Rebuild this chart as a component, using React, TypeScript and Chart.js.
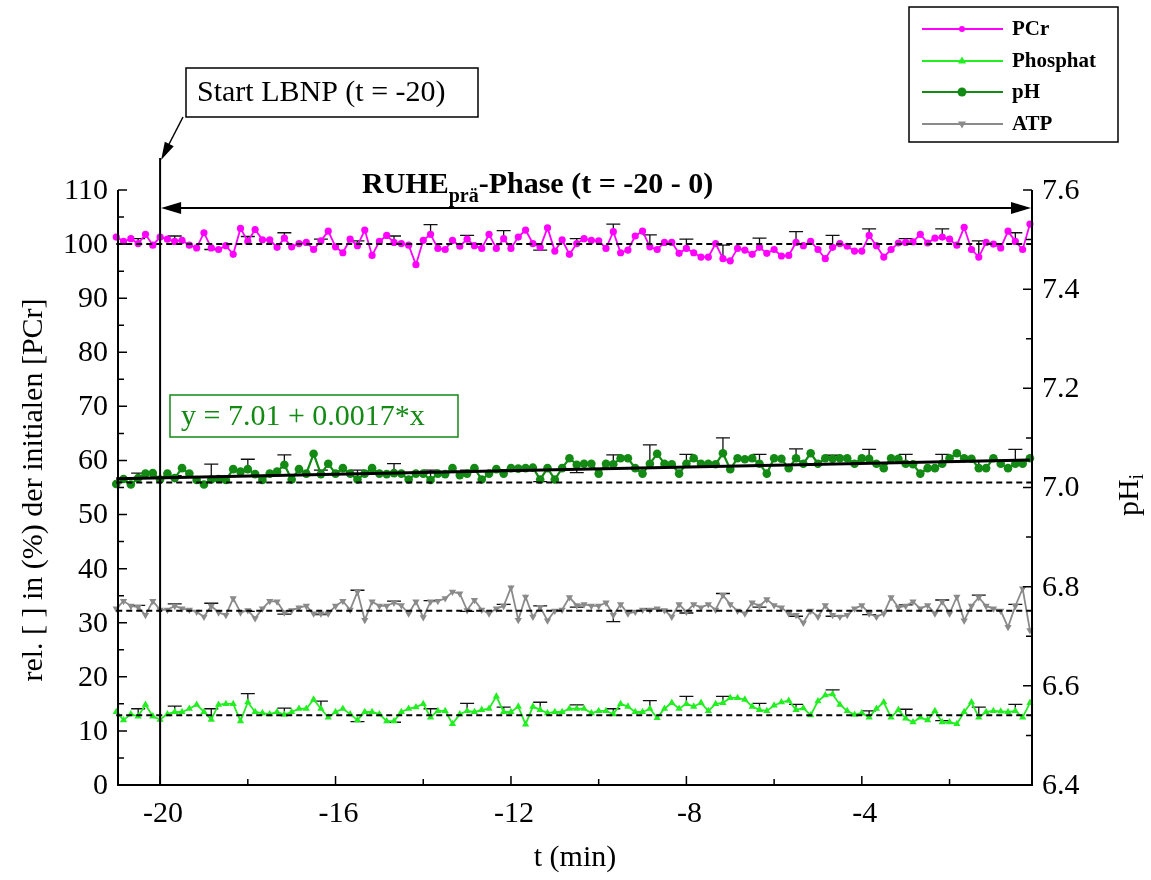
import React, { useEffect, useRef } from 'react';
import { Chart, registerables } from 'chart.js';
Chart.register(...registerables);

// ---------- data ----------
// samples every 10 s (1/6 min) from t = -21 min
const sampleCount = 126;
const times: number[] = Array.from({ length: sampleCount }, (_, i) => -21 + i / 6);

const pcrValues: number[] = [
  101.3, 100.5, 101, 100.1, 101.8, 99.8, 101.3, 100.9, 100.5, 100.7, 99.8, 99.3, 102.1, 99.3, 99, 99.7, 98.1, 102.9, 100.5, 102.7, 100.8,
  100.8, 99.4, 101.1, 99.5, 100.1, 100.3, 99, 100.6, 102.4, 99.5, 98.4, 100.9, 99.7, 102.6, 97.9, 100.5, 101.6, 100.3, 100.1, 99.8, 96.2,
  100.7, 101.8, 99.2, 99, 100.7, 99.6, 100.9, 99.7, 99.2, 101.8, 99.2, 101, 99.2, 101.3, 102.6, 100.1, 99.4, 103, 98.7, 100.8, 98.1,
  100.1, 101, 100.7, 100.6, 99.2, 102.3, 98.4, 98.9, 101.5, 102.4, 99.5, 99, 100.3, 100.3, 98.3, 99.2, 98.4, 97.6, 97.6, 100.1, 97.3,
  96.9, 99.2, 98.9, 98.1, 99.4, 98.3, 99, 97.8, 97.9, 100.3, 99.7, 100.5, 99, 97.3, 99.4, 100.1, 99.6, 98.7, 98.7, 101.6, 99.7,
  97.6, 99, 100.2, 100.3, 100.4, 101.8, 100.2, 101.1, 101.3, 100.9, 99.8, 103.1, 99, 97.6, 100.3, 100, 99.3, 102.4, 100.5, 99, 103.7,
];

const phValues: number[] = [
  7.007, 7.017, 7.006, 7.019, 7.028, 7.029, 7.016, 7.028, 7.019, 7.039, 7.028, 7.015, 7.006, 7.016, 7.017, 7.015, 7.037, 7.032, 7.037, 7.027, 7.015,
  7.028, 7.032, 7.046, 7.016, 7.037, 7.028, 7.068, 7.027, 7.048, 7.028, 7.039, 7.028, 7.016, 7.028, 7.039, 7.028, 7.027, 7.029, 7.028, 7.016, 7.028,
  7.028, 7.015, 7.028, 7.027, 7.039, 7.025, 7.028, 7.039, 7.016, 7.028, 7.037, 7.028, 7.039, 7.038, 7.039, 7.04, 7.016, 7.039, 7.016, 7.039, 7.059,
  7.046, 7.048, 7.048, 7.028, 7.048, 7.047, 7.059, 7.059, 7.039, 7.028, 7.048, 7.068, 7.048, 7.047, 7.028, 7.048, 7.059, 7.048, 7.048, 7.047, 7.069,
  7.037, 7.059, 7.057, 7.059, 7.048, 7.028, 7.059, 7.058, 7.039, 7.059, 7.048, 7.069, 7.048, 7.059, 7.058, 7.059, 7.059, 7.048, 7.059, 7.058, 7.048,
  7.039, 7.059, 7.058, 7.048, 7.047, 7.028, 7.039, 7.039, 7.048, 7.059, 7.069, 7.059, 7.058, 7.039, 7.039, 7.059, 7.048, 7.039, 7.048, 7.048, 7.059,
];

const atpValues: number[] = [
  32.6, 34.0, 33.1, 32.9, 31.4, 34.0, 32.4, 32.4, 33.1, 32.6, 32.4, 32.0, 31.1, 33.1, 31.9, 31.4, 34.5, 31.9, 32.3, 30.8, 32.6,
  34.0, 33.9, 31.9, 32.3, 32.8, 33.1, 31.7, 31.7, 31.7, 33.1, 34.0, 32.4, 35.7, 30.5, 33.9, 33.1, 33.1, 33.7, 33.2, 31.7, 33.9,
  31.0, 33.9, 34.0, 34.5, 35.7, 35.4, 32.3, 34.2, 32.4, 31.7, 32.6, 33.1, 36.5, 30.5, 34.8, 31.1, 32.9, 30.4, 32.2, 32.4, 34.7,
  33.2, 33.4, 33.1, 33.1, 33.7, 31.4, 33.4, 31.7, 32.0, 32.4, 32.4, 32.6, 32.3, 31.1, 33.4, 32.0, 33.4, 32.8, 33.4, 32.4, 35.1,
  33.4, 32.2, 31.7, 33.7, 33.1, 34.3, 33.2, 32.8, 31.7, 31.4, 30.0, 32.2, 31.1, 33.2, 31.4, 31.1, 31.4, 32.6, 33.2, 31.7, 31.1,
  31.7, 34.7, 32.8, 33.1, 33.9, 32.6, 33.2, 31.7, 33.9, 31.7, 34.8, 30.4, 33.1, 34.7, 33.1, 32.6, 32.2, 29.2, 33.1, 36.3, 28.6,
];

const phosphatValues: number[] = [
  13.5, 12.0, 13.1, 12.7, 14.85, 12.7, 12.1, 13.1, 13.5, 13.5, 14.1, 14.85, 13.5, 12.1, 14.85, 15.0, 15.0, 11.8, 15.3, 13.5, 13.3,
  13.1, 13.5, 13.0, 13.5, 14.1, 14.1, 15.8, 14.1, 12.5, 13.5, 14.1, 13.1, 12.0, 13.5, 13.5, 13.1, 11.8, 11.8, 13.5, 14.1, 14.4,
  15.0, 12.5, 13.7, 13.7, 11.3, 13.1, 13.7, 13.5, 13.9, 14.1, 16.4, 13.5, 13.5, 14.5, 11.2, 14.5, 13.9, 13.3, 13.5, 13.5, 14.1,
  14.1, 14.1, 13.3, 13.7, 13.7, 13.1, 15.0, 14.5, 13.5, 13.5, 14.1, 12.4, 14.1, 15.2, 14.1, 15.0, 14.5, 15.2, 13.7, 15.0, 15.2,
  16.1, 16.1, 15.8, 14.5, 13.9, 13.7, 14.7, 15.3, 15.6, 13.9, 14.2, 12.9, 15.5, 16.6, 16.8, 14.85, 13.7, 13.0, 13.3, 12.5, 14.1,
  15.3, 12.5, 13.9, 12.3, 11.6, 12.5, 12.0, 13.7, 11.6, 11.6, 11.3, 13.5, 15.3, 12.5, 13.5, 13.7, 13.6, 13.5, 13.7, 12.5, 15.2,
];

// error bars on every 5th sample, starting at sample 3
const errStart = 3;
const errStep = 5;
const pcrErr: number[] = [0.9, 1.0, -0.3, 0.9, 1.0, 0.3, 0.9, 1.2, 1.8, 0.7, 1.5, -0.5, 0.9, 1.4, 2.2, 1.7, 2.5, 1.7, 2.0, 2.2, 1.2, 0.7, 1.5, 3.0, 1.6];
const phErr: number[] = [0.01, 0.005, 0.031, 0.02, 0.02, 0.008, 0.019, 0.019, 0.02, 0.007, 0.008, -0.004, -0.016, 0.019, 0.038, 0.019, 0.031, 0.019, 0.019, 0.007, 0.019, 0.019, 0.019, 0.015, 0.029];
const atpErr: number[] = [0.3, 0.4, 0.5, -0.2, -0.3, -0.2, 0.3, 0.3, 0.2, -0.2, 0.3, 0.2, -0.3, -1.2, 0.2, -0.2, 0.3, -0.2, -0.2, -0.2, -0.2, 0.2, 0.3, 0.4, 0.3];
const phosphatErr: number[] = [1.4, 1.1, 2.0, 1.6, 1.2, 1.4, -0.3, -0.2, 1.6, 1.4, 0.9, 1.4, 0.7, 1.0, 1.5, 1.4, 1.2, 1.2, 1.0, 0.8, 1.2, 1.7, 0.3, 1.9, 1.2];

// initial (baseline) levels, dashed
const pcrBase = 100;
const phBase = 7.01;
const atpBase = 32.2;
const phosphatBase = 12.9;

// linear fit of pH
const regTimes: number[] = [-21, -0.17];
const regPH: number[] = [7.0175, 7.0556];

const xMin = -20.96;
const xMax = -0.12;
const leftTicks: number[] = [0, 10, 20, 30, 40, 50, 60, 70, 80, 90, 100, 110];
const rightTicks: number[] = [6.4, 6.6, 6.8, 7.0, 7.2, 7.4, 7.6];
const xTicks: number[] = [-20, -16, -12, -8, -4];

const seriesNames: string[] = ['PCr', 'Phosphat', 'pH', 'ATP'];
const COL_PCR = '#ff00ff';
const COL_PI = '#22ee22';
const COL_PH = '#138a13';
const COL_ATP = '#8a8a8a';

const SERIF = '"Liberation Serif", "Times New Roman", serif';

function drawMarker(ctx: CanvasRenderingContext2D, kind: string, x: number, y: number, r: number, color: string) {
  ctx.save();
  ctx.fillStyle = color;
  ctx.beginPath();
  if (kind === 'circle') {
    ctx.arc(x, y, r, 0, Math.PI * 2);
  } else if (kind === 'up') {
    ctx.moveTo(x, y - r * 1.15);
    ctx.lineTo(x + r, y + r * 0.6);
    ctx.lineTo(x - r, y + r * 0.6);
    ctx.closePath();
  } else {
    ctx.moveTo(x, y + r * 1.15);
    ctx.lineTo(x + r, y - r * 0.6);
    ctx.lineTo(x - r, y - r * 0.6);
    ctx.closePath();
  }
  ctx.fill();
  ctx.restore();
}

function arrowHead(ctx: CanvasRenderingContext2D, tipX: number, tipY: number, fromX: number, fromY: number, len: number, half: number) {
  const a = Math.atan2(tipY - fromY, tipX - fromX);
  ctx.beginPath();
  ctx.moveTo(tipX, tipY);
  ctx.lineTo(tipX - len * Math.cos(a) + half * Math.sin(a), tipY - len * Math.sin(a) - half * Math.cos(a));
  ctx.lineTo(tipX - len * Math.cos(a) - half * Math.sin(a), tipY - len * Math.sin(a) + half * Math.cos(a));
  ctx.closePath();
  ctx.fill();
}

const errorBarPlugin = {
  id: 'errorBars',
  beforeDatasetsDraw(chart: any) {
    const ctx = chart.ctx as CanvasRenderingContext2D;
    const xs = chart.scales.x;
    const groups: [number[], number[], any][] = [
      [pcrValues, pcrErr, chart.scales.y],
      [phosphatValues, phosphatErr, chart.scales.y],
      [phValues, phErr, chart.scales.y1],
      [atpValues, atpErr, chart.scales.y],
    ];
    ctx.save();
    ctx.strokeStyle = '#111';
    ctx.lineWidth = 1.3;
    groups.forEach(([vals, errs, ys]) => {
      errs.forEach((e, m) => {
        const k = errStart + errStep * m;
        const x = xs.getPixelForValue(times[k]);
        const y0 = ys.getPixelForValue(vals[k]);
        const y1 = ys.getPixelForValue(vals[k] + e);
        ctx.beginPath();
        ctx.moveTo(x, y0);
        ctx.lineTo(x, y1);
        ctx.moveTo(x - 7, y1);
        ctx.lineTo(x + 7, y1);
        ctx.stroke();
      });
    });
    ctx.restore();
  },
};

const decorPlugin = {
  id: 'decor',
  afterDraw(chart: any) {
    const ctx = chart.ctx as CanvasRenderingContext2D;
    const ca = chart.chartArea;
    const xs = chart.scales.x;
    const ys = chart.scales.y;
    const y1s = chart.scales.y1;
    ctx.save();

    // axes lines
    ctx.strokeStyle = '#000';
    ctx.lineWidth = 2;
    ctx.beginPath();
    ctx.moveTo(ca.left, ca.top);
    ctx.lineTo(ca.left, ca.bottom);
    ctx.lineTo(ca.right, ca.bottom);
    ctx.lineTo(ca.right, ca.top);
    ctx.stroke();

    // inward ticks
    ctx.lineWidth = 1.5;
    ctx.beginPath();
    for (let v = 0; v <= 110; v += 5) {
      const y = ys.getPixelForValue(v);
      const len = v % 10 === 0 ? 9 : 6;
      ctx.moveTo(ca.left, y);
      ctx.lineTo(ca.left + len, y);
    }
    for (let i = 0; i <= 12; i++) {
      const v = 6.4 + i * 0.1;
      const y = y1s.getPixelForValue(v);
      const len = i % 2 === 0 ? 9 : 6;
      ctx.moveTo(ca.right, y);
      ctx.lineTo(ca.right - len, y);
    }
    for (let t = -20; t <= -1; t += 2) {
      const x = xs.getPixelForValue(t);
      const len = t % 4 === 0 ? 9 : 6;
      ctx.moveTo(x, ca.bottom);
      ctx.lineTo(x, ca.bottom - len);
    }
    ctx.stroke();

    // tick labels
    ctx.fillStyle = '#000';
    ctx.font = `30px ${SERIF}`;
    ctx.textBaseline = 'middle';
    ctx.textAlign = 'right';
    leftTicks.forEach((v) => ctx.fillText(String(v), ca.left - 10, ys.getPixelForValue(v) + 1));
    ctx.textAlign = 'left';
    rightTicks.forEach((v) => ctx.fillText(v.toFixed(1), ca.right + 10, y1s.getPixelForValue(v) + 1));
    ctx.textAlign = 'center';
    ctx.textBaseline = 'top';
    xTicks.forEach((t) => ctx.fillText(String(t), xs.getPixelForValue(t) + 3, ca.bottom + 14));

    // axis titles
    ctx.textBaseline = 'middle';
    ctx.fillText('t (min)', 575, 858);
    ctx.save();
    ctx.translate(34, 490);
    ctx.rotate(-Math.PI / 2);
    ctx.fillText('rel. [ ] in (%) der initialen [PCr]', 0, 0);
    ctx.restore();
    ctx.save();
    ctx.translate(1130, 495);
    ctx.rotate(-Math.PI / 2);
    ctx.textAlign = 'left';
    const pw = ctx.measureText('pH').width;
    ctx.font = `20px ${SERIF}`;
    const iw = ctx.measureText('i').width;
    ctx.font = `30px ${SERIF}`;
    ctx.fillText('pH', -(pw + iw) / 2, 0);
    ctx.font = `20px ${SERIF}`;
    ctx.fillText('i', -(pw + iw) / 2 + pw, 8);
    ctx.restore();

    // vertical line at start of LBNP
    const xs20 = xs.getPixelForValue(-20);
    ctx.lineWidth = 2;
    ctx.beginPath();
    ctx.moveTo(xs20, 158);
    ctx.lineTo(xs20, ca.bottom);
    ctx.stroke();

    // double arrow for rest phase
    const xEnd = ca.right;
    ctx.beginPath();
    ctx.moveTo(xs20 + 10, 208);
    ctx.lineTo(xEnd - 10, 208);
    ctx.stroke();
    ctx.fillStyle = '#000';
    arrowHead(ctx, xs20 + 1, 208, xs20 + 30, 208, 20, 6);
    arrowHead(ctx, xEnd - 1, 208, xEnd - 30, 208, 20, 6);

    // phase title
    ctx.textAlign = 'left';
    ctx.textBaseline = 'alphabetic';
    ctx.font = `bold 30px ${SERIF}`;
    let tx = 362;
    ctx.fillText('RUHE', tx, 193);
    tx += ctx.measureText('RUHE').width;
    ctx.font = `bold 20px ${SERIF}`;
    ctx.fillText('prä', tx, 202);
    tx += ctx.measureText('prä').width;
    ctx.font = `bold 30px ${SERIF}`;
    ctx.fillText('-Phase (t = -20 - 0)', tx, 193);

    // Start LBNP annotation
    ctx.fillStyle = '#fff';
    ctx.fillRect(186, 68, 292, 49);
    ctx.strokeStyle = '#000';
    ctx.lineWidth = 1.5;
    ctx.strokeRect(186, 68, 292, 49);
    ctx.fillStyle = '#000';
    ctx.font = `30px ${SERIF}`;
    ctx.textBaseline = 'middle';
    ctx.fillText('Start LBNP (t = -20)', 197, 93);
    ctx.lineWidth = 1.5;
    ctx.beginPath();
    ctx.moveTo(183, 117);
    ctx.lineTo(166, 150);
    ctx.stroke();
    arrowHead(ctx, xs20 + 1, 160, 183, 117, 18, 5);

    // regression equation
    ctx.fillStyle = '#fff';
    ctx.fillRect(170, 395, 288, 42);
    ctx.strokeStyle = COL_PH;
    ctx.lineWidth = 1.5;
    ctx.strokeRect(170, 395, 288, 42);
    ctx.fillStyle = COL_PH;
    ctx.fillText('y = 7.01 + 0.0017*x', 181, 417);

    // legend
    ctx.fillStyle = '#fff';
    ctx.fillRect(909, 7, 209, 135);
    ctx.strokeStyle = '#000';
    ctx.lineWidth = 1.5;
    ctx.strokeRect(909, 7, 209, 135);
    const legendY = [29, 61, 92, 124];
    const legendCol = [COL_PCR, COL_PI, COL_PH, COL_ATP];
    const legendMk = ['circle', 'up', 'circle', 'down'];
    const legendR = [3, 4, 4.5, 4];
    seriesNames.forEach((n, i) => {
      const y = legendY[i];
      ctx.strokeStyle = legendCol[i];
      ctx.lineWidth = 2;
      ctx.beginPath();
      ctx.moveTo(922, y);
      ctx.lineTo(1003, y);
      ctx.stroke();
      drawMarker(ctx, legendMk[i], 962, y, legendR[i], legendCol[i]);
      ctx.fillStyle = '#000';
      ctx.font = `bold 21px ${SERIF}`;
      ctx.textAlign = 'left';
      ctx.textBaseline = 'middle';
      ctx.fillText(n, 1012, y + 1);
    });

    ctx.restore();
  },
};

export default function App() {
  const ref = useRef<HTMLCanvasElement | null>(null);

  useEffect(() => {
    if (!ref.current) return;
    const pts = (vals: number[]) => times.map((t, i) => ({ x: t, y: vals[i] }));
    const flat = (y: number) => [{ x: -21, y }, { x: xMax, y }];
    const dashed = (data: any, axis: string) => ({
      data,
      yAxisID: axis,
      borderColor: '#000',
      borderWidth: 2,
      borderDash: [6, 4],
      pointRadius: 0,
      clip: false,
      order: 0,
    });
    const chart = new Chart(ref.current, {
      type: 'line',
      data: {
        datasets: [
          dashed(flat(pcrBase), 'y'),
          dashed(flat(phBase), 'y1'),
          dashed(flat(atpBase), 'y'),
          dashed(flat(phosphatBase), 'y'),
          {
            data: regTimes.map((t, i) => ({ x: t, y: regPH[i] })),
            yAxisID: 'y1',
            borderColor: '#000',
            borderWidth: 3,
            pointRadius: 0,
            clip: false,
            order: 0,
          },
          {
            label: 'PCr',
            data: pts(pcrValues),
            yAxisID: 'y',
            borderColor: COL_PCR,
            backgroundColor: COL_PCR,
            borderWidth: 1.8,
            pointRadius: 3.6,
            pointBorderWidth: 0,
            pointStyle: 'circle',
            clip: false,
            order: 1,
          },
          {
            label: 'Phosphat',
            data: pts(phosphatValues),
            yAxisID: 'y',
            borderColor: COL_PI,
            backgroundColor: COL_PI,
            borderWidth: 1.8,
            pointRadius: 4.2,
            pointBorderWidth: 0,
            pointStyle: 'triangle',
            clip: false,
            order: 1,
          },
          {
            label: 'pH',
            data: pts(phValues),
            yAxisID: 'y1',
            borderColor: COL_PH,
            backgroundColor: COL_PH,
            borderWidth: 2.2,
            pointRadius: 4.3,
            pointBorderWidth: 0,
            pointStyle: 'circle',
            clip: false,
            order: 1,
          },
          {
            label: 'ATP',
            data: pts(atpValues),
            yAxisID: 'y',
            borderColor: COL_ATP,
            backgroundColor: COL_ATP,
            borderWidth: 1.8,
            pointRadius: 4.2,
            pointBorderWidth: 0,
            pointStyle: 'triangle',
            rotation: 180,
            clip: false,
            order: 1,
          },
        ],
      },
      options: {
        animation: false,
        responsive: false,
        maintainAspectRatio: false,
        parsing: true,
        layout: { padding: { left: 118, right: 119, top: 190, bottom: 95 } },
        plugins: { legend: { display: false }, tooltip: { enabled: false }, title: { display: false } },
        elements: { line: { tension: 0 } },
        scales: {
          x: { type: 'linear', min: xMin, max: xMax, display: false },
          y: { type: 'linear', min: 0, max: 110, display: false },
          y1: { type: 'linear', min: 6.4, max: 7.6, display: false, position: 'right' },
        },
      },
      plugins: [errorBarPlugin, decorPlugin],
    } as any);
    return () => chart.destroy();
  }, []);

  return (
    <div style={{ position: 'absolute', left: 0, top: 0, width: 1151, height: 880, background: '#fff' }}>
      <canvas ref={ref} width={1151} height={880} style={{ width: 1151, height: 880, display: 'block' }} />
    </div>
  );
}
